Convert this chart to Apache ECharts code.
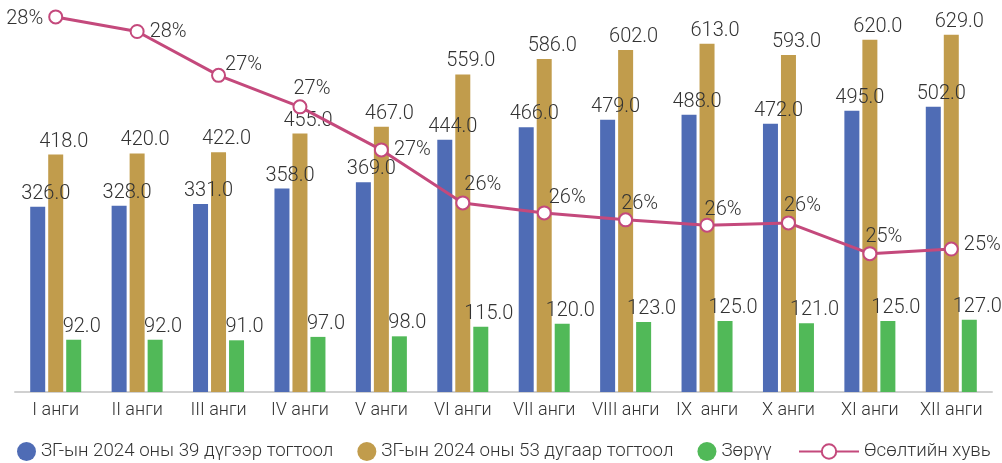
<!DOCTYPE html>
<html>
<head>
<meta charset="utf-8">
<script src="https://cdn.jsdelivr.net/npm/echarts@6/dist/echarts.min.js"></script>
<style>
  html, body { margin: 0; padding: 0; background: #fff; }
  #chart { width: 1002px; height: 463px; }
</style>
</head>
<body>
<div id="chart"></div>
<script>
// анги бүрийн өгөгдөл
const categories = ['I анги', 'II анги', 'III анги', 'IV анги', 'V анги', 'VI анги',
  'VII анги', 'VIII анги', 'IX  анги', 'X анги', 'XI анги', 'XII анги'];
const res39 = [326, 328, 331, 358, 369, 444, 466, 479, 488, 472, 495, 502];
const res53 = [418, 420, 422, 455, 467, 559, 586, 602, 613, 593, 620, 629];
const diff = [92, 92, 91, 97, 98, 115, 120, 123, 125, 121, 125, 127];
const growth = [28.25, 28.06, 27.49, 27.08, 26.52, 25.83, 25.70, 25.61, 25.54, 25.57, 25.17, 25.23];

const seriesNames = ['ЗГ-ын 2024 оны 39 дүгээр тогтоол', 'ЗГ-ын 2024 оны 53 дугаар тогтоол', 'Зөрүү', 'Өсөлтийн хувь'];

// шошгын байрлал (хувь)
const growthLabelOffsets = [[0, 2], [0, 0], [-6, -10], [-19, -18], [0, 0], [-11, -18],
  [-8, -15], [-17, -16], [-15, -15], [-17, -17], [-17, -17], [0, -4]];

const FONT = 'Roboto';
const TEXT = '#333333';
const WEIGHT = 300;

let chart = echarts.init(document.getElementById('chart'));

function barSeries(name, data, color) {
  return {
    name: name,
    type: 'bar',
    data: data,
    barWidth: 15,
    barGap: '20%',
    itemStyle: { color: color },
    label: {
      show: true,
      position: 'top',
      distance: 3,
      offset: [8, 0],
      color: TEXT,
      fontFamily: FONT,
      fontWeight: WEIGHT,
      fontSize: 20,
      formatter: function(p) { return p.value.toFixed(1); }
    }
  };
}

chart.setOption({
  animation: false,
  textStyle: { fontFamily: FONT },
  grid: { left: 15, right: 10, top: 0, bottom: 71 },
  legend: [{
    data: seriesNames.slice(0, 3),
    left: 17,
    top: 442,
    icon: 'circle',
    itemWidth: 19,
    itemHeight: 19,
    itemGap: 24,
    padding: 0,
    textStyle: { color: TEXT, fontSize: 18.7, fontWeight: WEIGHT, fontFamily: FONT }
  }, {
    data: [seriesNames[3]],
    left: 798,
    top: 442,
    itemWidth: 60,
    itemHeight: 18,
    padding: 0,
    textStyle: { color: TEXT, fontSize: 18.7, fontWeight: WEIGHT, fontFamily: FONT }
  }],
  xAxis: {
    type: 'category',
    data: categories,
    axisTick: { show: false },
    axisLine: { lineStyle: { color: '#d0d0d0', width: 2 } },
    axisLabel: { color: TEXT, fontSize: 18, fontWeight: WEIGHT, fontFamily: FONT, margin: 9, interval: 0 }
  },
  yAxis: [{
    type: 'value',
    min: 0,
    max: 690,
    show: false,
    splitLine: { show: false }
  }, {
    type: 'value',
    min: 23.37,
    max: 28.47,
    show: false,
    splitLine: { show: false }
  }],
  series: [
    barSeries(seriesNames[0], res39, '#4F6CB5'),
    barSeries(seriesNames[1], res53, '#C19C4C'),
    barSeries(seriesNames[2], diff, '#51B958'),
    {
      name: seriesNames[3],
      type: 'line',
      yAxisIndex: 1,
      z: 5,
      clip: false,
      data: growth.map(function(v, i) {
        return {
          value: v,
          label: {
            position: i === 0 ? 'left' : 'right',
            offset: growthLabelOffsets[i]
          }
        };
      }),
      symbol: 'circle',
      symbolSize: 13,
      lineStyle: { color: '#C4497C', width: 3 },
      itemStyle: { color: '#fff', borderColor: '#C4497C', borderWidth: 2 },
      label: {
        show: true,
        distance: 5,
        color: TEXT,
        fontFamily: FONT,
        fontWeight: WEIGHT,
        fontSize: 20,
        formatter: function(p) { return Math.round(p.value) + '%'; }
      }
    }
  ]
});
</script>
</body>
</html>
